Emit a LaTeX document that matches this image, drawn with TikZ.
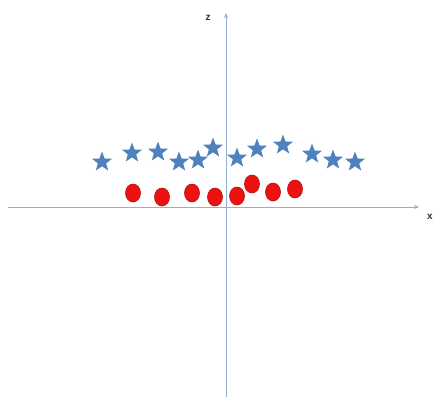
\documentclass[tikz,border=0pt]{standalone}
\usepackage{fontspec}
\setmainfont{Liberation Sans}
\usetikzlibrary{shapes.geometric,arrows.meta}
\definecolor{axisblue}{HTML}{8FB0D8}
\definecolor{starblue}{HTML}{4F81BD}
\definecolor{dotred}{HTML}{EE1111}
\definecolor{dotedge}{HTML}{B01010}
\begin{document}
\begin{tikzpicture}[x=1pt,y=-1pt,
  axis/.style={draw=axisblue,line width=0.8pt,-{Stealth[length=5pt,width=4pt]}},
  starnode/.style={star,star points=5,star point ratio=2.4,fill=starblue,draw=none,minimum size=21pt,inner sep=0pt},
  dotnode/.style={ellipse,fill=dotred,draw=dotedge,line width=0.6pt,minimum width=15pt,minimum height=18pt,inner sep=0pt},
  lbl/.style={font=\normalsize\bfseries,text=black!80,inner sep=0pt}]
\useasboundingbox (0,0) rectangle (435,397);
\coordinate (xs) at (8,207);
\coordinate (xe) at (419,207);
\coordinate (zs) at (226,397);
\coordinate (ze) at (226,13);
\draw[axis] (xs) -- (xe);
\draw[axis] (zs) -- (ze);
\node[lbl] (zl) at (208,18) {z};
\node[lbl] (xl) at (430,217) {x};
\node[starnode] (s1) at (102,162) {};
\node[starnode] (s2) at (132,153) {};
\node[starnode] (s3) at (158,152) {};
\node[starnode] (s4) at (179,162) {};
\node[starnode] (s5) at (198,160) {};
\node[starnode] (s6) at (213,148) {};
\node[starnode] (s7) at (237,158) {};
\node[starnode] (s8) at (257,149) {};
\node[starnode] (s9) at (283,145) {};
\node[starnode] (s10) at (312,154) {};
\node[starnode] (s11) at (333,160) {};
\node[starnode] (s12) at (355,162) {};
\node[dotnode] (d1) at (133,193) {};
\node[dotnode] (d2) at (162,197) {};
\node[dotnode] (d3) at (192,193) {};
\node[dotnode] (d4) at (215,197) {};
\node[dotnode] (d5) at (237,196) {};
\node[dotnode] (d6) at (252,184) {};
\node[dotnode] (d7) at (273,192) {};
\node[dotnode] (d8) at (295,189) {};
\end{tikzpicture}
\end{document}
